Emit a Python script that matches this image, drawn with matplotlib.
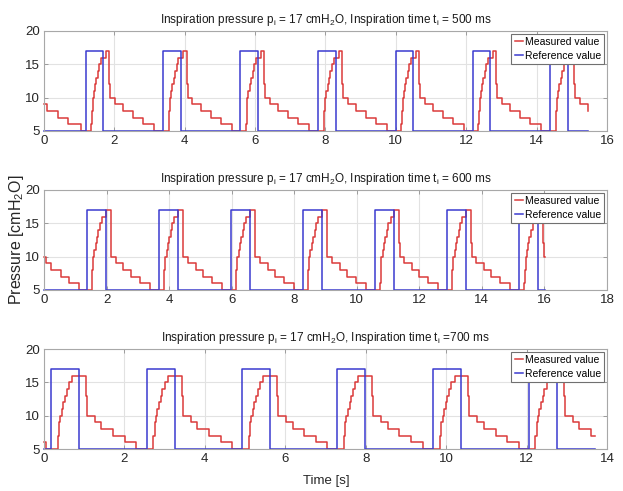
import matplotlib
matplotlib.use("Agg")
import matplotlib.pyplot as plt

# Reference pulses: rise times [s], pulse width [s], pulse level, base level
ref_rise_500 = [1.18, 3.38, 5.58, 7.79, 9.99, 12.18, 14.38]
ref_rise_600 = [1.36, 3.67, 5.97, 8.27, 10.58, 12.88, 15.19]
ref_rise_700 = [0.17, 2.55, 4.92, 7.29, 9.68, 12.05]
ref_width = [0.50, 0.61, 0.70]
ref_high = 17
ref_low = 5

meas_dt_500 = [0.16, 0.18, 0.20, 0.23, 0.27, 0.31, 0.35, 0.39, 0.44, 0.58, 0.68, 0.70, 0.84, 1.07, 1.36, 1.64, 1.95]
meas_p_500 = [6, 8, 10, 11, 12, 13, 14, 15, 16, 17, 12, 10, 9, 8, 7, 6, 5]
meas_dt_600 = [0.16, 0.18, 0.21, 0.25, 0.29, 0.33, 0.38, 0.43, 0.50, 0.62, 0.77, 0.79, 0.94, 1.18, 1.41, 1.71, 2.03]
meas_p_600 = [6, 8, 10, 11, 12, 13, 14, 15, 16, 17, 12, 10, 9, 8, 7, 6, 5]
meas_dt_700 = [0.17, 0.20, 0.23, 0.27, 0.31, 0.35, 0.39, 0.45, 0.53, 0.87, 0.90, 1.10, 1.26, 1.55, 1.84, 2.13]
meas_p_700 = [7, 9, 10, 11, 12, 13, 14, 15, 16, 13, 10, 9, 8, 7, 6, 5]

# tail of the previous breath at t = 0
head_t_500 = [0, 0.08, 0.41, 0.69, 1.05]
head_p_500 = [9, 8, 7, 6, 5]
head_t_600 = [0, 0.05, 0.22, 0.53, 0.81, 1.12]
head_p_600 = [10, 9, 8, 7, 6, 5]
head_t_700 = [0, 0.06]
head_p_700 = [6, 5]

t_end = [15.47, 16.02, 13.70]
x_max = [16, 18, 14]
t_insp = ["= 500 ms", "= 600 ms", "=700 ms"]

RED = "#db3a3a"
BLUE = "#3a3ad0"
FONT = "Liberation Sans"

plt.rcParams["font.family"] = [FONT, "DejaVu Sans"]
plt.rcParams["mathtext.fontset"] = "custom"
plt.rcParams["mathtext.rm"] = FONT
plt.rcParams["mathtext.it"] = FONT + ":italic"


def build_measured(head_t, head_p, rises, dts, ps, end):
    t = list(head_t)
    p = list(head_p)
    for r in rises:
        for dt, v in zip(dts, ps):
            t.append(r + dt)
            p.append(v)
    keep = [i for i in range(len(t)) if t[i] < end]
    t = [t[i] for i in keep] + [end]
    p = [p[i] for i in keep] + [p[keep[-1]]]
    return t, p


def build_reference(rises, width, end):
    t = [0]
    p = [ref_low]
    for r in rises:
        t += [r, r + width]
        p += [ref_high, ref_low]
    t.append(end)
    p.append(ref_low)
    return t, p


panels = [
    (head_t_500, head_p_500, ref_rise_500, meas_dt_500, meas_p_500),
    (head_t_600, head_p_600, ref_rise_600, meas_dt_600, meas_p_600),
    (head_t_700, head_p_700, ref_rise_700, meas_dt_700, meas_p_700),
]

fig = plt.figure(figsize=(6.23, 4.91), dpi=100)
bottoms = [0.7332, 0.4094, 0.0855]

for k, (ht, hp, rises, dts, ps) in enumerate(panels):
    ax = fig.add_axes([0.0706, bottoms[k], 0.9037, 0.2037])
    mt, mp = build_measured(ht, hp, rises, dts, ps, t_end[k])
    rt, rp = build_reference(rises, ref_width[k], t_end[k])
    ax.step(mt, mp, where="post", color=RED, lw=1.1, label="Measured value", clip_on=False)
    ax.step(rt, rp, where="post", color=BLUE, lw=1.1, label="Reference value", clip_on=False)

    ax.set_xlim(0, x_max[k])
    ax.set_ylim(5, 20)
    ax.set_xticks(range(0, x_max[k] + 1, 2))
    ax.set_yticks([5, 10, 15, 20])
    ax.grid(True, color="#e2e2e2", lw=0.8)
    ax.set_axisbelow(True)
    for s in ax.spines.values():
        s.set_color("#a8a8a8")
        s.set_linewidth(0.8)
    ax.tick_params(direction="in", top=True, right=True, length=3, width=0.6,
                   color="#909090", pad=3, labelsize=9.5, labelcolor="#262626")

    ax.set_title("Inspiration pressure p$_\\mathregular{i}$ = 17 cmH$_\\mathregular{2}$O, "
                 "Inspiration time t$_\\mathregular{i}$ " + t_insp[k],
                 fontsize=8.5, color="#1a1a1a", pad=6)

    leg = ax.legend(loc="upper right", fontsize=7.5,
                    handlelength=0.8, handletextpad=0.2, borderpad=0.3,
                    labelspacing=0.4, borderaxespad=0.25, fancybox=False,
                    framealpha=1, edgecolor="#707070")
    leg.get_frame().set_linewidth(0.8)

fig.text(0.027, 0.511, "Pressure [cmH$_\\mathregular{2}$O]", rotation=90,
         ha="center", va="center", fontsize=11.5, color="#262626")
fig.text(0.523, 0.020, "Time [s]", ha="center", va="center", fontsize=9.5,
         color="#262626")

fig.savefig("out.png", dpi=100)
